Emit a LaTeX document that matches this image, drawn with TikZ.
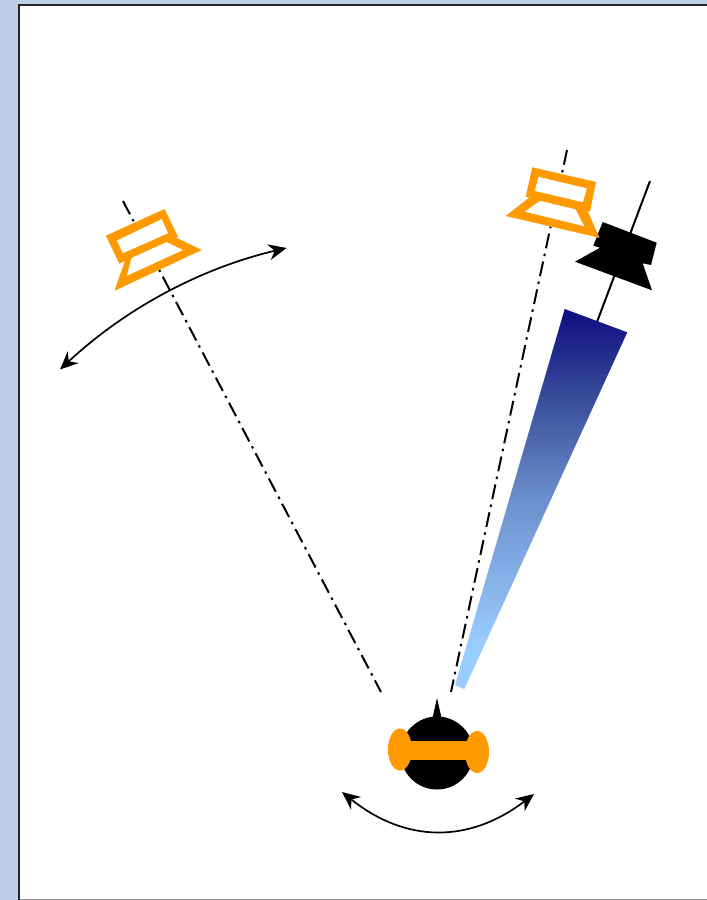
\documentclass[tikz,border=0pt]{standalone}
\usetikzlibrary{arrows.meta}
\definecolor{pagebg}{RGB}{189,207,231}
\definecolor{spk}{RGB}{255,153,0}
\definecolor{navy}{RGB}{13,13,128}
\definecolor{sky}{RGB}{153,204,255}
\definecolor{beamA}{RGB}{58,78,155}
\definecolor{beamB}{RGB}{108,145,205}
\definecolor{beamC}{RGB}{140,185,240}
\pgfdeclareverticalshading{beamfade}{100bp}{color(0bp)=(sky); color(31bp)=(sky); color(36.7bp)=(beamC); color(49.9bp)=(beamB); color(63bp)=(beamA); color(75bp)=(navy); color(100bp)=(navy)}
\tikzset{
  axisline/.style={black,line width=2pt,dash pattern=on 15pt off 5.5pt on 2.5pt off 5.5pt},
  solidaxis/.style={black,line width=2pt},
  sweep/.style={black,line width=1.7pt,{Stealth[length=18pt,width=16pt,inset=6pt]}-{Stealth[length=18pt,width=16pt,inset=6pt]}},
  orangepart/.style={fill=spk,even odd rule}
}
\begin{document}
\begin{tikzpicture}[x=1pt,y=-1pt]
\useasboundingbox (0,0) rectangle (707,900);
\fill[pagebg] (0,0) rectangle (707,900);
\fill[white] (19,4.5) rectangle (707,899);
\draw[black!45,line width=1pt] (19,899.5) -- (707,899.5);
\draw[black!85,line width=2pt] (19,900) -- (19,4.5) -- (707,4.5);
% axes
\draw[axisline] (123,201) -- (381,692);
\draw[axisline] (567,150) -- (451,692);
\draw[solidaxis] (650,181) -- (597,322);
% beam
\shade[shading=beamfade]
  (564.7,309) -- (627.3,332.3) -- (464.3,689) -- (455,685) -- cycle;
% left speaker
\fill[white] (106,235.7) -- (164.5,209) -- (178,236.7) -- (174,237.5) -- (201.7,250) -- (114.5,290.7) -- (126,261) -- (119.2,263.5) -- cycle;
\fill[orangepart] (126,258) -- (114.5,290.7) -- (201.7,250) -- (174,236.5) -- (135,252) -- cycle
  (131.7,256.7) -- (166,241.7) -- (183.3,250) -- (126.7,276) -- cycle;
\fill[orangepart] (106,235.7) -- (164.5,209) -- (178,236.7) -- (119.2,263.5) -- cycle
  (116.7,240.5) -- (161.7,219) -- (168.3,233.3) -- (122.7,253.3) -- cycle;
% black speaker
\fill[black] (602.7,222) -- (656.7,242.7) -- (651,265) -- (642.7,263.3) -- (652,290.3) -- (575,261.7) -- (600,247.7) -- (593.3,245.7) -- cycle;
% right speaker
\fill[white] (532.3,167.3) -- (596,182) -- (590,211.7) -- (586.7,211) -- (599.3,237.7) -- (505.7,216) -- (530,198.7) -- (525.7,196.7) -- cycle;
\fill[orangepart] (530,197) -- (505.7,216) -- (599.3,237.7) -- (586.7,209) -- cycle
  (540,200.7) -- (575.7,209.3) -- (584.3,226.3) -- (524.3,211.7) -- cycle;
\fill[orangepart] (532.3,167.3) -- (596,182) -- (590,211.7) -- (525.7,196.7) -- cycle
  (538.3,176.7) -- (587,188.3) -- (583,202.3) -- (534.7,191) -- cycle;
% head
\fill[black] (437,698) -- (442,720) -- (432,720) -- cycle;
\fill[black] (437,753) circle[radius=36.5];
\fill[spk] (400,741) rectangle (477,760);
\fill[spk] (400,749.5) ellipse[x radius=12,y radius=21];
\fill[spk] (477,752) ellipse[x radius=12,y radius=21];
% sweeps
\draw[sweep] (60,369.5) .. controls (125.3,308.7) and (200.3,268.3) .. (286.5,248);
\draw[sweep] (342,792) .. controls (405.7,843) and (469,843.7) .. (534,794);
\end{tikzpicture}
\end{document}
